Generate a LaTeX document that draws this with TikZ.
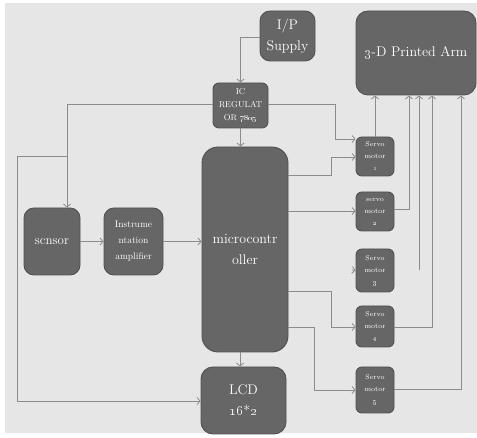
\documentclass[tikz,border=0pt]{standalone}
\usetikzlibrary{arrows.meta}
\definecolor{bgc}{HTML}{E6E6E6}
\definecolor{boxfill}{HTML}{666666}
\definecolor{boxedge}{HTML}{505050}
\definecolor{wirec}{HTML}{8C8C8C}
\begin{document}
\begin{tikzpicture}[x=1pt,y=-1pt,
  blk/.style={draw=boxedge, fill=boxfill, line width=0.9pt, rounded corners=#1,
    text=white, align=center, inner sep=0pt, anchor=center},
  blk/.default=10pt,
  big/.style={font=\fontsize{14}{21}\selectfont},
  mid/.style={font=\fontsize{9.5}{16}\selectfont},
  sml/.style={font=\fontsize{8.5}{13}\selectfont},
  srv/.style={blk=6pt, minimum width=38pt, font=\fontsize{7}{12}\selectfont},
  wire/.style={draw=wirec, line width=0.8pt},
  arr/.style={wire, -{Straight Barb[length=3pt,width=7pt]}}]
\useasboundingbox (0,0) rectangle (477,438);
\fill[white] (0,0) rectangle (477,438);
\fill[bgc] (5,3) rectangle (477,433);

% blocks
\node[blk, big, minimum width=55pt, minimum height=50pt] (ip) at (287.5,36) {I/P\\Supply};
\node[blk=12pt, big, minimum width=120pt, minimum height=84pt] (arm) at (416,53) {\oldstylenums{3}-D Printed Arm};
\node[blk=6pt, sml, minimum width=55pt, minimum height=45pt] (ic) at (240.5,105.5) {IC\\REGULAT\\OR \oldstylenums{7805}};
\node[blk=16pt, big, minimum width=86pt, minimum height=205pt] (micro) at (245,249.5) {microcontr\\oller};
\node[blk=12pt, big, minimum width=85pt, minimum height=67pt] (lcd) at (243.5,400.5) {LCD\\\oldstylenums{16}*\oldstylenums{2}};
\node[blk=10pt, font=\fontsize{13}{16}\selectfont, minimum width=56pt, minimum height=67pt] (sensor) at (52,241.5) {scnsor};
\node[blk=10pt, mid, minimum width=59pt, minimum height=67pt] (amp) at (133.5,241.5) {Instrume\\ntation\\amplifier};
\node[srv, minimum height=39pt] (s1) at (375,156.5) {Servo\\motor\\\oldstylenums{1}};
\node[srv, minimum height=39pt] (s2) at (375,211.5) {servo\\motor\\\oldstylenums{2}};
\node[srv, minimum height=43pt] (s3) at (375,270.5) {Servo\\motor\\\oldstylenums{3}};
\node[srv, minimum height=41pt] (s4) at (375,326.5) {Servo\\motor\\\oldstylenums{4}};
\node[srv, minimum height=46pt] (s5) at (375,390) {Servo\\motor\\\oldstylenums{5}};

% helper coordinates
\coordinate (ipL) at (ip.west |- 0,37);
\coordinate (icL) at (ic.west |- 0,104);
\coordinate (icR) at (ic.east |- 0,104);
\coordinate (jn) at (67,156);
\coordinate (s3in) at (352,270);
\coordinate (vtop) at (419,270);

% connectors
\draw[arr] (ipL) -| (ic.north);
\draw[arr] (ic.south) -- (ic.south |- micro.north);
\draw[arr] (icL) -| (67,0 |- sensor.north);
\draw[arr] (jn) -| (17,401) -- (lcd.west |- 0,401);
\draw[arr] (icR) -| (335,139) -- (s1.west |- 0,139);
\draw[arr] (sensor.east) -- (amp.west);
\draw[arr] (amp.east) -- (micro.west |- amp.east);
\draw[arr] (micro.east |- 0,175) -| (331,157) -- (s1.west |- 0,157);
\draw[arr] (micro.east |- 0,211) -- (s2.west |- 0,211);
\draw[arr] (s3in) -- (s3.west);
\draw[arr] (micro.east |- 0,291) -| (331,327) -- (s4.west |- 0,327);
\draw[arr] (micro.east |- 0,327) -| (314,390) -- (s5.west);
\draw[arr] (micro.south -| 240,0) -- (240,0 |- lcd.north);
\draw[arr] (s1.north) -- (s1.north |- arm.south);
\draw[arr] (s2.east |- 0,209) -| (409,0 |- arm.south);
\draw[arr] (vtop) -- (419,0 |- arm.south);
\draw[arr] (s4.east |- 0,327) -| (432,0 |- arm.south);
\draw[arr] (s5.east |- 0,389) -| (461,0 |- arm.south);
\end{tikzpicture}
\end{document}
